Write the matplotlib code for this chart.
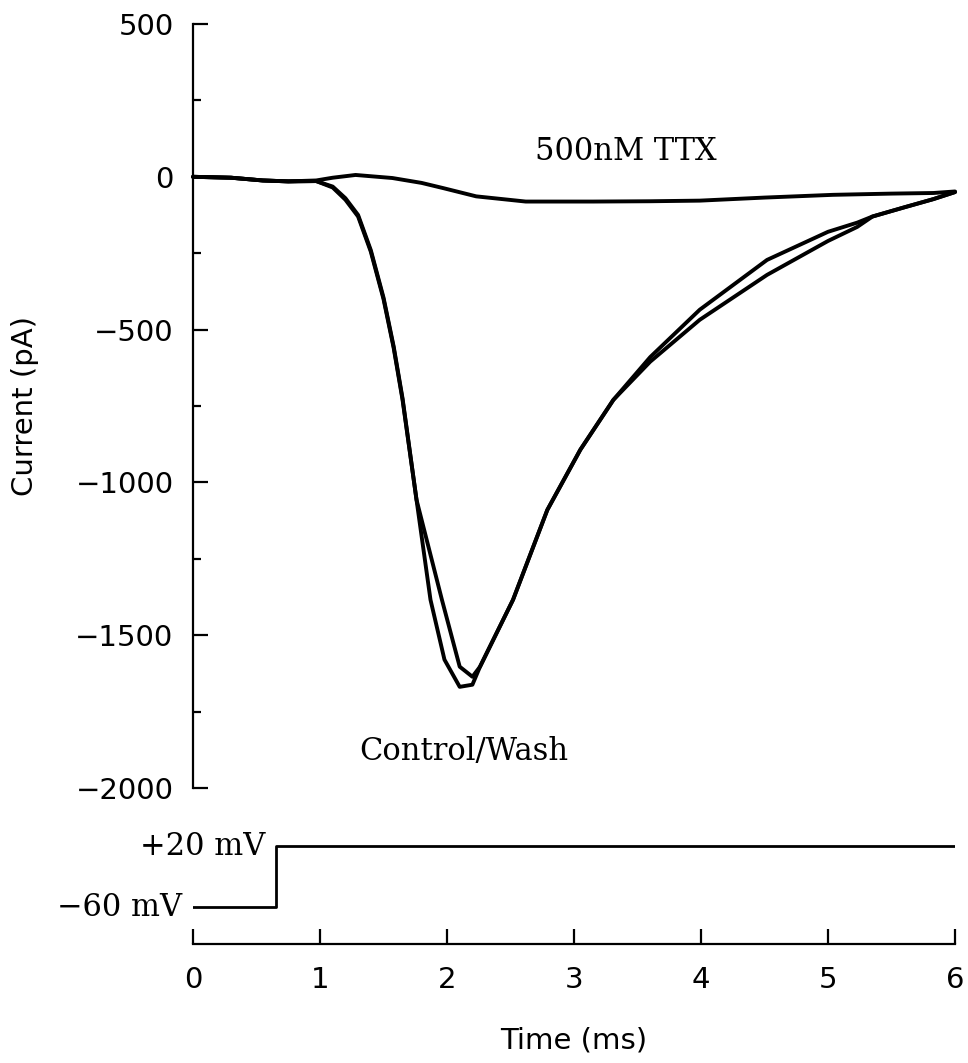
import matplotlib.pyplot as plt
from matplotlib.ticker import MultipleLocator

# current traces (ms, pA)
t_ttx = [0, 0.3, 0.55, 0.75, 0.97, 1.1, 1.28, 1.57, 1.8, 1.97, 2.23, 2.62,
         3.15, 3.6, 3.99, 4.5, 5.04, 5.5, 5.83, 6.0]
i_ttx = [0, -3, -12, -15, -12, -3, 6, -4, -20, -37, -64, -81,
         -81, -80, -78, -68, -59, -55, -53, -48]

t_ctrl = [0, 0.3, 0.55, 0.75, 0.97, 1.1, 1.2, 1.3, 1.4, 1.5, 1.58, 1.65,
          1.76, 1.87, 1.98, 2.10, 2.20, 2.26, 2.52, 2.79, 3.05, 3.31, 3.6,
          3.99, 4.52, 5.0, 5.23, 5.35, 5.6, 5.83, 6.0]
i_ctrl = [0, -3, -12, -15, -14, -35, -75, -130, -245, -400, -560, -730,
          -1057, -1384, -1580, -1669, -1662, -1603, -1384, -1090, -893, -730, -590,
          -435, -272, -180, -150, -130, -100, -73, -50]

t_wash = [0, 0.3, 0.55, 0.75, 0.97, 1.1, 1.2, 1.3, 1.4, 1.5, 1.58, 1.65,
          1.76, 1.96, 2.10, 2.20, 2.26, 2.52, 2.79, 3.05, 3.31, 3.6,
          3.99, 4.52, 5.0, 5.23, 5.35, 5.6, 5.83, 6.0]
i_wash = [0, -3, -12, -15, -14, -32, -70, -125, -240, -395, -555, -725,
          -1057, -1384, -1603, -1636, -1603, -1384, -1090, -893, -730, -605,
          -468, -321, -210, -164, -130, -100, -73, -50]

# voltage command
v_time = [0, 0.65, 0.65, 6]
v_cmd = [-60, -60, 20, 20]

sans = 'DejaVu Sans'
serif = 'DejaVu Serif'

fig = plt.figure(figsize=(9.68, 10.63), dpi=100)
W, H = 968, 1063

# main current panel
ax = fig.add_axes([193/W, 1-788/H, 762/W, 764/H])
for t, i in [(t_ttx, i_ttx), (t_ctrl, i_ctrl), (t_wash, i_wash)]:
    ax.plot(t, i, color='black', lw=2.8, clip_on=False,
            solid_joinstyle='round', solid_capstyle='round')
ax.set_xlim(0, 6)
ax.set_ylim(-2000, 500)
for s in ['top', 'right', 'bottom']:
    ax.spines[s].set_visible(False)
ax.spines['left'].set_linewidth(1.6)
ax.set_xticks([])
ax.yaxis.set_major_locator(MultipleLocator(500))
ax.yaxis.set_minor_locator(MultipleLocator(250))
ax.tick_params(axis='y', which='major', direction='in', length=11, width=1.6,
               pad=14, labelsize=21)
ax.tick_params(axis='y', which='minor', direction='in', length=5.5, width=1.6)
for lab in ax.get_yticklabels():
    lab.set_family(sans)

ax.text(2.69, 82, '500nM TTX', family=serif, fontsize=22, va='center', ha='left')
ax.text(1.31, -1882, 'Control/Wash', family=serif, fontsize=22, va='center', ha='left')

# voltage panel
axv = fig.add_axes([193/W, 1-944/H, 762/W, 114/H])
axv.plot(v_time, v_cmd, color='black', lw=2.0)
axv.set_xlim(0, 6)
axv.set_ylim(-108.5, 41)
for s in ['top', 'right', 'left']:
    axv.spines[s].set_visible(False)
axv.spines['bottom'].set_linewidth(1.6)
axv.set_yticks([])
axv.set_xticks(range(0, 7))
axv.tick_params(axis='x', direction='in', length=11, width=1.6, pad=16, labelsize=21)
for lab in axv.get_xticklabels():
    lab.set_family(sans)
axv.text(0.567, 20, '+20 mV', family=serif, fontsize=22, va='center', ha='right')
axv.text(-0.087, -60, '\u221260 mV', family=serif, fontsize=22, va='center', ha='right')

fig.text(574/W, 1-1040/H, 'Time (ms)', family=sans, fontsize=21, ha='center', va='center')
fig.text(25/W, 1-406/H, 'Current (pA)', family=sans, fontsize=21, ha='center',
         va='center', rotation=90)

fig.savefig('out.png', dpi=100)
